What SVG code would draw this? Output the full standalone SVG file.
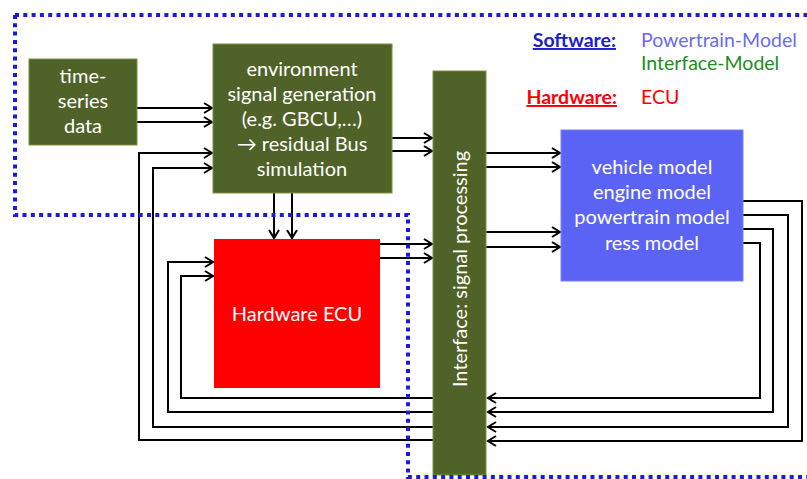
<svg xmlns="http://www.w3.org/2000/svg" width="807" height="479" viewBox="0 0 807 479">
<defs>
<style>
.olive{fill:#4F6228;stroke:#7A9440;stroke-width:1}
.t{font-family:Lato,"Open Sans","Liberation Sans",sans-serif;font-size:20px;fill:#FFFFFF;text-anchor:middle}
.c{fill:none;stroke:#000000;stroke-width:2}
.lg{font-family:Lato,"Open Sans","Liberation Sans",sans-serif;font-size:19.5px}
</style>
<marker id="ah" markerUnits="userSpaceOnUse" markerWidth="12" markerHeight="14" refX="9" refY="6" orient="auto" viewBox="0 0 12 12">
<path d="M1,1 L9,6 L1,11" fill="none" stroke="#000000" stroke-width="2"/>
</marker>
</defs>
<rect width="807" height="479" fill="#FFFFFF"/>
<g id="connectors">
<path class="c" d="M137,108 H212" marker-end="url(#ah)"/>
<path class="c" d="M137,122 H212" marker-end="url(#ah)"/>
<path class="c" d="M433,440 H139 V153 H212" marker-end="url(#ah)"/>
<path class="c" d="M433,427 H153 V168 H212" marker-end="url(#ah)"/>
<path class="c" d="M433,412 H168 V262 H213" marker-end="url(#ah)"/>
<path class="c" d="M433,398 H181 V276 H213" marker-end="url(#ah)"/>
<path class="c" d="M392,138 H432" marker-end="url(#ah)"/>
<path class="c" d="M392,151 H432" marker-end="url(#ah)"/>
<path class="c" d="M274,193 V238" marker-end="url(#ah)"/>
<path class="c" d="M292,193 V238" marker-end="url(#ah)"/>
<path class="c" d="M380,244 H432" marker-end="url(#ah)"/>
<path class="c" d="M380,258 H432" marker-end="url(#ah)"/>
<path class="c" d="M486,153 H560" marker-end="url(#ah)"/>
<path class="c" d="M486,167 H560" marker-end="url(#ah)"/>
<path class="c" d="M486,232 H560" marker-end="url(#ah)"/>
<path class="c" d="M486,247 H560" marker-end="url(#ah)"/>
<path class="c" d="M743,201 H802 V441 H488" marker-end="url(#ah)"/>
<path class="c" d="M743,215 H788 V427 H488" marker-end="url(#ah)"/>
<path class="c" d="M743,229 H773 V412 H488" marker-end="url(#ah)"/>
<path class="c" d="M743,243 H760 V398 H488" marker-end="url(#ah)"/>
</g>
<g id="timeseries">
<rect class="olive" x="29" y="59" width="108" height="86"/>
<text class="t" x="83" y="83">time-</text>
<text class="t" x="83" y="108">series</text>
<text class="t" x="83" y="133">data</text>
</g>
<g id="envsignal">
<rect class="olive" x="213" y="44" width="179" height="149"/>
<text class="t" x="302" y="76">environment</text>
<text class="t" x="302" y="101">signal generation</text>
<text class="t" x="302" y="126">(e.g. GBCU,…)</text>
<text class="t" x="302" y="151">→ residual Bus</text>
<text class="t" x="302" y="176">simulation</text>
</g>
<g id="ecu">
<rect x="214" y="239" width="166" height="149" fill="#FF0000"/>
<text class="t" x="297" y="321">Hardware ECU</text>
</g>
<g id="interface">
<rect class="olive" x="433" y="71" width="53" height="404"/>
<text class="t" transform="translate(467,269) rotate(-90)" x="0" y="0">Interface: signal processing</text>
</g>
<g id="model">
<rect x="561" y="130" width="182" height="151" fill="#5B63F5" stroke="#7A80F0" stroke-width="1"/>
<text class="t" x="652" y="174">vehicle model</text>
<text class="t" x="652" y="199">engine model</text>
<text class="t" x="652" y="224">powertrain model</text>
<text class="t" x="652" y="250">ress model</text>
</g>
<g id="border">
<path d="M15,15 H807 M15,15 V215 H408 V477 H807" fill="none" stroke="#1A1AE0" stroke-width="4" stroke-dasharray="4 4.3"/>
</g>
<g id="legend">
<text class="lg" x="616" y="47" text-anchor="end" font-weight="bold" fill="#2020C8" text-decoration="underline">Software:</text>
<text class="lg" x="641" y="47" fill="#6A6AF2">Powertrain-Model</text>
<text class="lg" x="641" y="70" fill="#1E8C1E">Interface-Model</text>
<text class="lg" x="617" y="104" text-anchor="end" font-weight="bold" fill="#FF0000" text-decoration="underline">Hardware:</text>
<text class="lg" x="641" y="104" fill="#FF0000">ECU</text>
</g>
</svg>
